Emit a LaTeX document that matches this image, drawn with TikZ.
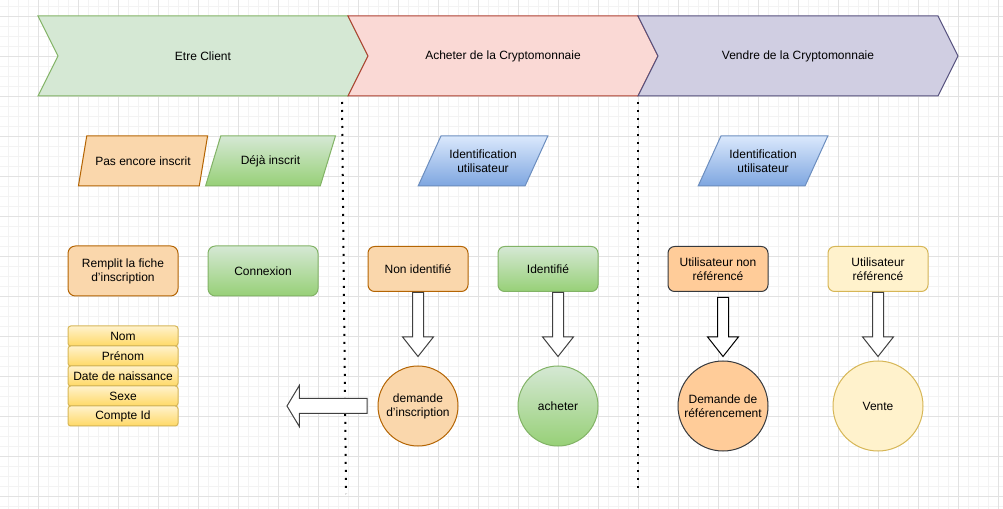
\documentclass[tikz,border=0pt]{standalone}
\usepackage{fontspec}
\setmainfont{Liberation Sans}
\usetikzlibrary{shapes.geometric,shapes.arrows}

\definecolor{greenfill}{HTML}{D5E8D4}
\definecolor{greendark}{HTML}{97D077}
\definecolor{greenline}{HTML}{82B366}
\definecolor{redfill}{HTML}{FAD9D5}
\definecolor{redline}{HTML}{AE4132}
\definecolor{purplefill}{HTML}{D0CEE2}
\definecolor{purpleline}{HTML}{56517E}
\definecolor{orangefill}{HTML}{FAD7AC}
\definecolor{orangeline}{HTML}{B46504}
\definecolor{bluetop}{HTML}{DAE8FC}
\definecolor{bluebottom}{HTML}{7EA6E0}
\definecolor{blueline}{HTML}{6C8EBF}
\definecolor{peachfill}{HTML}{FFCC99}
\definecolor{darkline}{HTML}{36393D}
\definecolor{yellowfill}{HTML}{FFF2CC}
\definecolor{yellowdark}{HTML}{FFD966}
\definecolor{yellowline}{HTML}{D6B656}
\definecolor{gridminor}{HTML}{F3F3F3}
\definecolor{gridmajor}{HTML}{E2E2E2}

\begin{document}
\begin{tikzpicture}[x=0.75pt,y=-0.75pt,
every node/.style={font=\fontsize{9}{10.5}\selectfont, text=black},
phase/.style={line width=0.75pt, line join=miter},
inputnode/.style={trapezium, trapezium left angle=51.34, trapezium right angle=128.66, trapezium stretches=true, minimum width=97.5pt, minimum height=37.5pt, inner sep=0pt, line width=0.75pt, align=center},
bigbox/.style={rectangle, rounded corners=5.5pt, minimum width=82.5pt, minimum height=37.5pt, inner sep=0pt, line width=0.75pt, align=center},
stepbox/.style={rectangle, rounded corners=5pt, minimum width=75pt, minimum height=33.75pt, inner sep=0pt, line width=0.75pt, align=center},
fieldbox/.style={rectangle, rounded corners=2pt, draw=yellowline, top color=yellowfill, bottom color=yellowdark, minimum width=82.5pt, minimum height=15pt, inner sep=0pt, line width=0.75pt},
endnode/.style={circle, inner sep=0pt, line width=0.75pt, align=center},
greengrad/.style={top color=greenfill, bottom color=greendark, draw=greenline},
bluegrad/.style={top color=bluetop, bottom color=bluebottom, draw=blueline},
downarrow/.style={single arrow, draw=black!75, fill=white, line width=0.75pt, minimum height=48pt, minimum width=22.5pt, single arrow head extend=7.5pt, single arrow tip angle=76.6, inner xsep=0pt, inner ysep=3.75pt, rotate=-90, anchor=tail},
backarrow/.style={single arrow, draw=black!75, fill=white, line width=0.75pt, minimum height=60pt, minimum width=30pt, single arrow head extend=9.75pt, single arrow tip angle=118, inner xsep=0pt, inner ysep=5.25pt, rotate=180, anchor=tail},
sepline/.style={line width=1.5pt, dash pattern=on 1.5pt off 4.5pt}
]
\useasboundingbox (0,0) rectangle (1003,509);

%Grid
\foreach \gx in {-2,8,...,1002} \draw[gridminor, line width=0.6pt] (\gx,0) -- (\gx,509);
\foreach \gy in {6,16,...,506} \draw[gridminor, line width=0.6pt] (0,\gy) -- (1003,\gy);
\foreach \gx in {-2,38,...,998} \draw[gridmajor, line width=0.6pt] (\gx,0) -- (\gx,509);
\foreach \gy in {16,56,...,496} \draw[gridmajor, line width=0.6pt] (0,\gy) -- (1003,\gy);

%Phases
\draw[phase, fill=greenfill, draw=greenline] (38,16) -- (348,16) -- (368,56) -- (348,96) -- (38,96) -- (58,56) -- cycle;
\draw[phase, fill=redfill, draw=redline] (348,16) -- (638,16) -- (658,56) -- (638,96) -- (348,96) -- (368,56) -- cycle;
\draw[phase, fill=purplefill, draw=purpleline] (638,16) -- (938,16) -- (958,56) -- (938,96) -- (638,96) -- (658,56) -- cycle;
\node at (203,56) (CLIENT) {Etre Client};
\node at (503,56) (ACHAT) {Acheter de la Cryptomonnaie};
\node at (798,56) (VENTE) {Vendre de la Cryptomonnaie};

%Separators
\draw[sepline] (342,102) -- (346,494);
\draw[sepline] (638,102) -- (638,494);

%Nodes
\node[inputnode, fill=orangefill, draw=orangeline] at (143,161) (PASINS) {Pas encore inscrit};
\node[inputnode, greengrad] at (270.5,161) (DEJAINS) {Déjà inscrit};
\node[inputnode, bluegrad] at (483,161) (IDENT-1) {Identification\\utilisateur};
\node[inputnode, bluegrad] at (763,161) (IDENT-2) {Identification\\utilisateur};

\node[bigbox, fill=orangefill, draw=orangeline] at (123,271) (REMPLIT) {Remplit la fiche\\d'inscription};
\node[bigbox, greengrad] at (263,271) (CONNEX) {Connexion};
\node[stepbox, fill=orangefill, draw=orangeline] at (418,269) (NONID) {Non identifié};
\node[stepbox, greengrad] at (548,269) (IDENT) {Identifié};
\node[stepbox, fill=peachfill, draw=darkline] at (718,269) (NONREF) {Utilisateur non\\référencé};
\node[stepbox, fill=yellowfill, draw=yellowline] at (878,269) (REF) {Utilisateur\\référencé};

\node[fieldbox] at (123,336) (NOM) {Nom};
\node[fieldbox] at (123,356) (PRENOM) {Prénom};
\node[fieldbox] at (123,376) (NAISS) {Date de naissance};
\node[fieldbox] at (123,396) (SEXE) {Sexe};
\node[fieldbox] at (123,416) (COMPTE) {Compte Id};

\node[endnode, minimum size=60pt, fill=orangefill, draw=orangeline] at (418,406) (DEMINS) {demande\\d'inscription};
\node[endnode, minimum size=60pt, greengrad] at (558,406) (ACHETER) {acheter};
\node[endnode, minimum size=67.5pt, fill=peachfill, draw=darkline] at (723,406) (DEMREF) {Demande de\\référencement};
\node[endnode, minimum size=67.5pt, fill=yellowfill, draw=yellowline] at (878,406) (VENTE-1) {Vente};

%Arrows
\node[downarrow] at (DEMINS |- NONID.south) (ARR-1) {};
\node[downarrow] at (ACHETER |- IDENT.south) (ARR-2) {};
\node[downarrow, draw=black, minimum height=44.25pt] at ([yshift=-3.75pt]DEMREF |- NONREF.south) (ARR-3) {};
\node[downarrow] at (VENTE-1 |- REF.south) (ARR-4) {};
\node[backarrow] at ([xshift=-7.5pt]DEMINS.west) (RETOUR) {};
\end{tikzpicture}
\end{document}
